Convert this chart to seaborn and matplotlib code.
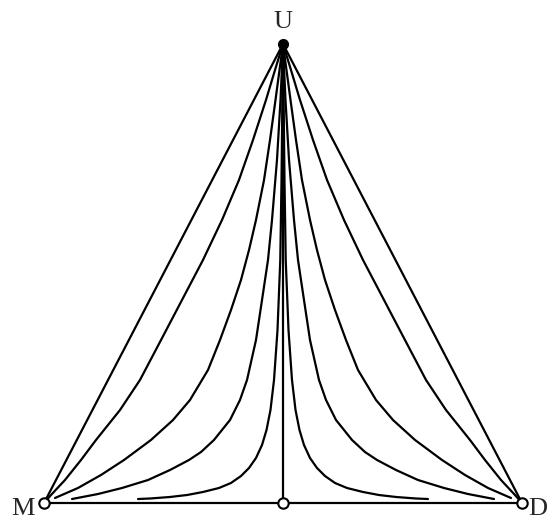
import numpy as np
import pandas as pd
import matplotlib
matplotlib.use("Agg")
import matplotlib.pyplot as plt
import seaborn as sns

# trajectories on the left half of the simplex (x: M=0 -> D=1, y: base=0 -> U=1)
# the right half is the mirror image (x -> 1 - x)
curve_a_x = [0.5, 0.4833, 0.4644, 0.4372, 0.4079, 0.3724, 0.3326, 0.2887, 0.2448, 0.2008,
             0.1590, 0.1088, 0.0774, 0.0439, 0.0146, 0.0]
curve_a_y = [1.0, 0.9434, 0.8780, 0.7908, 0.7037, 0.6166, 0.5294, 0.4423, 0.3551, 0.2680,
             0.2026, 0.1373, 0.0937, 0.0501, 0.0174, 0.0]

curve_b_x = [0.5, 0.4927, 0.4843, 0.4728, 0.4603, 0.4435, 0.4289, 0.4121, 0.3912, 0.3682,
             0.3431, 0.3054, 0.2699, 0.2238, 0.1674, 0.1192, 0.0711, 0.0230]
curve_b_y = [1.0, 0.9434, 0.8780, 0.7908, 0.7037, 0.6166, 0.5512, 0.4858, 0.4205, 0.3551,
             0.2898, 0.2244, 0.1808, 0.1373, 0.0937, 0.0610, 0.0327, 0.0109]

curve_c_x = [0.5, 0.4948, 0.4874, 0.4770, 0.4686, 0.4561, 0.4435, 0.4247, 0.4100, 0.3891,
             0.3556, 0.3285, 0.3033, 0.2636, 0.2176, 0.1632, 0.1130, 0.0586]
curve_c_y = [1.0, 0.8780, 0.7473, 0.6166, 0.5294, 0.4423, 0.3551, 0.2680, 0.2244, 0.1808,
             0.1373, 0.1111, 0.0937, 0.0719, 0.0501, 0.0327, 0.0196, 0.0087]

curve_d_x = [0.5, 0.4987, 0.4969, 0.4943, 0.4885, 0.4812, 0.4738, 0.4655, 0.4561, 0.4435,
             0.4289, 0.4121, 0.3912, 0.3661, 0.3326, 0.2992, 0.2636, 0.2218, 0.1967]
curve_d_y = [1.0, 0.8780, 0.7037, 0.5294, 0.3769, 0.2680, 0.2026, 0.1590, 0.1264, 0.0980,
             0.0763, 0.0588, 0.0436, 0.0327, 0.0240, 0.0174, 0.0131, 0.0098, 0.0087]

# simplex corners and rest points
corner_names = ["M", "D", "U"]
corner_x = [0.0, 1.0, 0.5]
corner_y = [0.0, 0.0, 1.0]
rest_open_x = [0.0, 0.5, 1.0]
rest_open_y = [0.0, 0.0, 0.0]

curves = {"A": (curve_a_x, curve_a_y), "B": (curve_b_x, curve_b_y),
          "C": (curve_c_x, curve_c_y), "D": (curve_d_x, curve_d_y)}
rows = []
for name, (xs, ys) in curves.items():
    for i, (x, y) in enumerate(zip(xs, ys)):
        rows.append({"curve": name + "_left", "order": i, "x": x, "y": y})
        rows.append({"curve": name + "_right", "order": i, "x": 1 - x, "y": y})
# triangle edges and the central invariant line
edge_x = corner_x + [corner_x[0]]
edge_y = corner_y + [corner_y[0]]
for i, (x, y) in enumerate(zip(edge_x, edge_y)):
    rows.append({"curve": "edge", "order": i, "x": x, "y": y})
rows.append({"curve": "mid", "order": 0, "x": 0.5, "y": 0.0})
rows.append({"curve": "mid", "order": 1, "x": 0.5, "y": 1.0})
df = pd.DataFrame(rows)

sns.set_style("white")
plt.rcParams["font.family"] = ["Liberation Serif", "DejaVu Serif"]
plt.rcParams["lines.solid_joinstyle"] = "round"

fig = plt.figure(figsize=(5.48, 5.22), dpi=100)
ax = fig.add_axes([0, 0, 1, 1])
sns.lineplot(data=df, x="x", y="y", units="curve", estimator=None, sort=False,
             color="black", linewidth=1.6, ax=ax, legend=False)

ax.plot(corner_x[2], corner_y[2], "o", color="black", markersize=7, zorder=5)
ax.plot(rest_open_x, rest_open_y, "o", markerfacecolor="white", markeredgecolor="black",
        markeredgewidth=1.5, markersize=7.5, linestyle="none", zorder=5)

ax.text(0.5, 1.035, "U", ha="center", va="baseline", fontsize=19)
ax.text(-0.044, -0.038, "M", ha="center", va="bottom", fontsize=19)
ax.text(1.032, -0.038, "D", ha="center", va="bottom", fontsize=19)

ax.set_xlim(-44 / 478, 504 / 478)
ax.set_ylim(-19 / 459, 503 / 459)
ax.axis("off")
fig.savefig("out.png", dpi=100)
